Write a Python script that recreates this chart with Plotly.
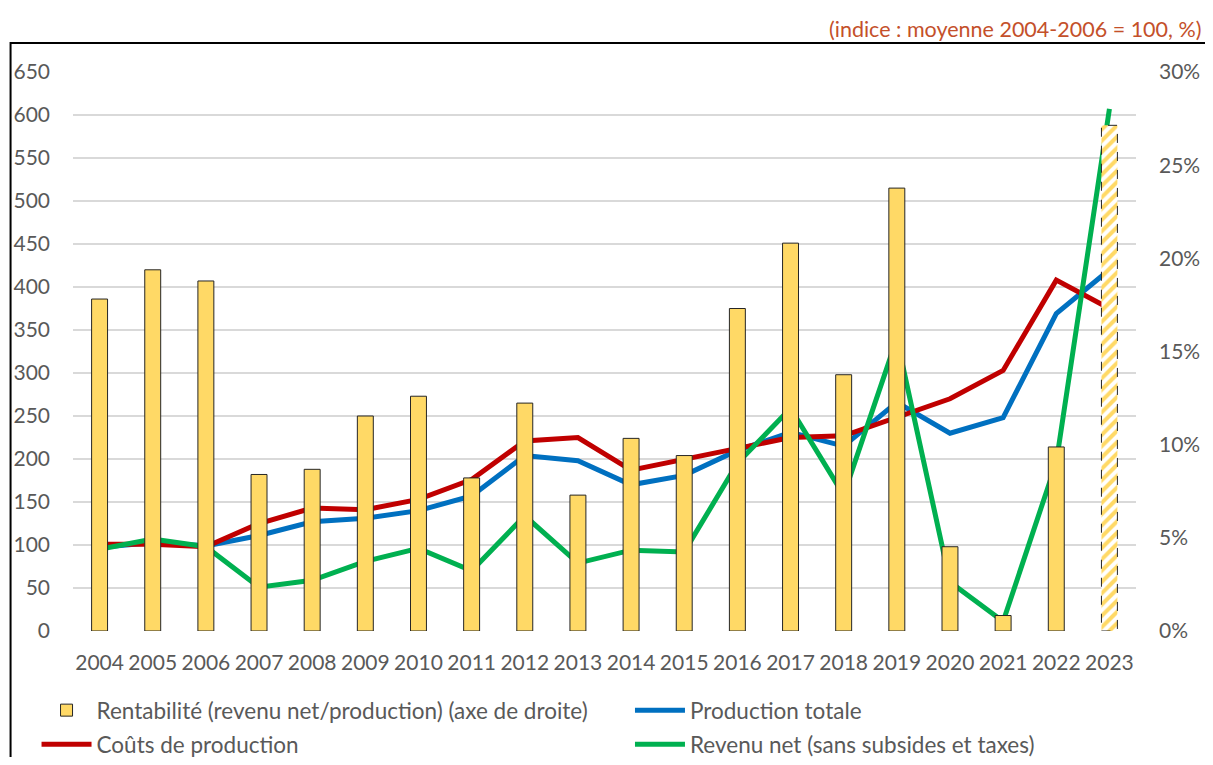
import plotly.graph_objects as go

years = [str(y) for y in range(2004, 2024)]
rentabilite_idx = [386, 420, 407, 182, 188, 250, 273, 178, 265, 158,
                   224, 204, 375, 451, 298, 515, 98, 18, 214, 588]
rentabilite = [v * 30 / 650 / 100 for v in rentabilite_idx]  # share (right axis)
production = [97, 103, 99, 111, 127, 131, 140, 157, 204, 198,
              170, 181, 210, 231, 215, 266, 230, 248, 369, 420]
couts = [101, 101, 98, 125, 143, 141, 153, 176, 221, 225,
         187, 200, 213, 225, 227, 249, 270, 303, 408, 375]
revenu = [95, 107, 98, 51, 59, 81, 96, 70, 134, 79,
          94, 92, 195, 259, 158, 340, 57, 11, 196, 607]
left_ticks = list(range(0, 651, 50))
right_ticks = [0, 0.05, 0.10, 0.15, 0.20, 0.25, 0.30]

GRAY = "#595959"
FONT = "Lato"
FS = 21
LFS = 22.5
BARW = 0.3
n = len(years)
last = n - 1

fig = go.Figure()
fig.add_trace(go.Bar(
    x=years, y=rentabilite, yaxis="y2", width=BARW, legend="legend",
    name="Rentabilité (revenu net/production) (axe de droite)",
    marker=dict(
        color="#FFD966",
        line=dict(color=["#262626"] * last + ["rgba(0,0,0,0)"], width=1),
        pattern=dict(shape=[""] * last + ["/"], fgcolor="#FFD966",
                     bgcolor="white", size=8, solidity=0.5,
                     fillmode="replace"),
    ),
))
fig.add_trace(go.Scatter(x=years, y=production, mode="lines", name="Production totale",
                         legend="legend2", line=dict(color="#0070C0", width=5)))
fig.add_trace(go.Scatter(x=years, y=couts, mode="lines", name="Coûts de production",
                         legend="legend3", line=dict(color="#C00000", width=5)))
fig.add_trace(go.Scatter(x=years, y=revenu, mode="lines", name="Revenu net (sans subsides et taxes)",
                         legend="legend4", line=dict(color="#00B050", width=5)))

# dashed outline of the (estimated) last bar, derived from the data
fig.add_shape(type="rect", xref="x", yref="y2",
              x0=last - BARW / 2, x1=last + BARW / 2, y0=0, y1=rentabilite[last],
              line=dict(color="#262626", width=1, dash="dash"), layer="above")

OFF = 8  # page body margin
W, H = 1213 - 2 * OFF, 765 - 2 * OFF
L, T = 72.5 - OFF, 72 - OFF
R = (W + OFF) - 1136.5
B = (H + OFF) - 631
pw, ph = W - L - R, H - T - B
def px(xw): return (xw - OFF - L) / pw
def py(yw): return (H - B - (yw - OFF)) / ph

# outer frame (left and top borders)
fig.add_shape(type="rect", xref="paper", yref="paper",
              x0=px(10), x1=px(1240), y0=py(800), y1=py(43),
              line=dict(color="black", width=2), layer="below")

fig.add_annotation(xref="paper", yref="paper", x=px(1204), y=py(29),
                   xanchor="right", yanchor="middle", showarrow=False,
                   text="(indice : moyenne 2004-2006 = 100, %)",
                   font=dict(family=FONT, size=21.5, color="#C4502A"))

leg_common = dict(orientation="h", xref="paper", yref="paper",
                  xanchor="left", yanchor="top", traceorder="normal",
                  font=dict(family=FONT, size=LFS, color=GRAY), itemwidth=50,
                  bgcolor="rgba(0,0,0,0)")

fig.update_layout(
    width=W, height=H, margin=dict(l=L, r=R, t=T, b=B, autoexpand=False),
    paper_bgcolor="white", plot_bgcolor="white",
    font=dict(family=FONT, size=FS, color=GRAY),
    xaxis=dict(type="category", showgrid=False, showline=False, ticks="",
               ticklabelstandoff=17, tickfont=dict(size=FS, color=GRAY)),
    yaxis=dict(range=[0, 650], tickvals=left_ticks, showgrid=True,
               gridcolor="#D9D9D9", gridwidth=2, zeroline=False, showline=False,
               ticklabelstandoff=22, tickfont=dict(size=FS, color=GRAY)),
    yaxis2=dict(range=[0, 0.30], tickvals=right_ticks, tickformat=".0%",
                overlaying="y", side="right", showgrid=False, zeroline=False,
                ticklabelstandoff=22, tickfont=dict(size=FS, color=GRAY)),
    legend=dict(x=px(36), y=py(689), **leg_common),
    legend2=dict(x=px(630), y=py(689), **leg_common),
    legend3=dict(x=px(36), y=py(723), **leg_common),
    legend4=dict(x=px(630), y=py(723), **leg_common),
    showlegend=True,
)

fig.write_html("out.html")
